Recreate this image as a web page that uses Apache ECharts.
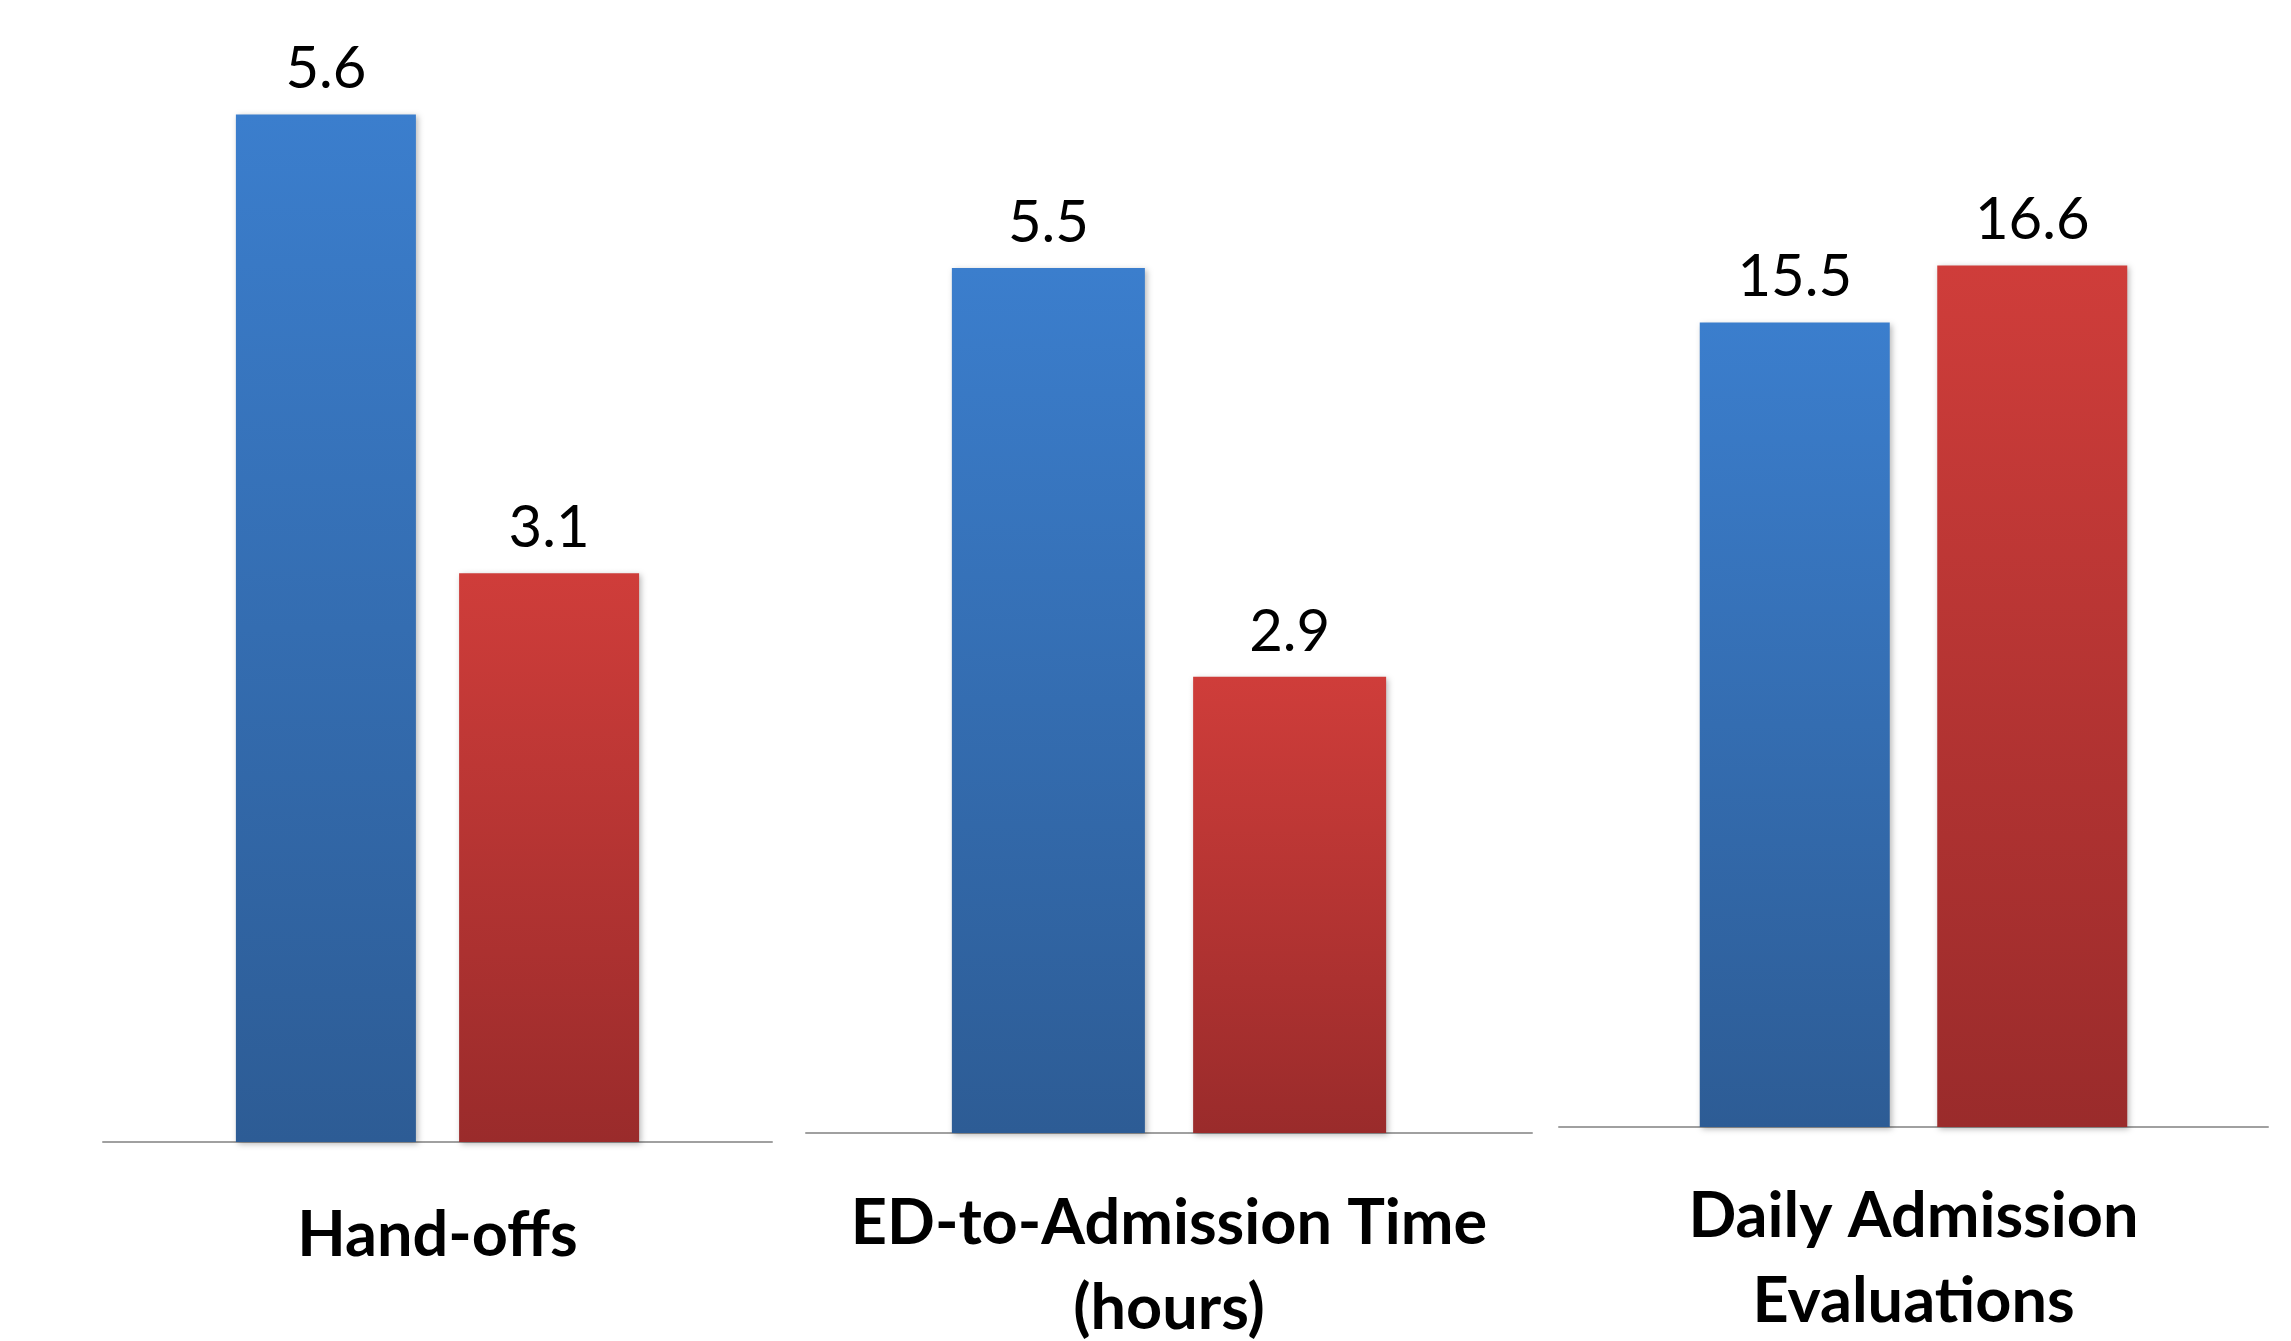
<!DOCTYPE html>
<html>
<head>
<meta charset="utf-8">
<script src="https://cdn.jsdelivr.net/npm/echarts@6/dist/echarts.min.js"></script>
<style>
  html, body { margin: 0; padding: 0; background: #ffffff; }
  #chart { width: 2291px; height: 1341px; }
</style>
</head>
<body>
<div id="chart"></div>
<script>
// ---- data ----
const categories = ['Hand-offs', 'ED-to-Admission Time\n(hours)', 'Daily Admission\nEvaluations'];
const seriesAName = 'Series A';
const seriesBName = 'Series B';
const seriesAValues = [5.6, 5.5, 15.5];
const seriesBValues = [3.1, 2.9, 16.6];
const axisMax = [6, 7, 20];

// ---- layout (pixels) ----
const panels = [
  { left: 103, width: 669, top: 41, bottom: 199, barWidth: 180, barGap: '24%', margin: 51 },
  { left: 806, width: 726, top: 32, bottom: 208, barWidth: 193, barGap: '25%', margin: 48 },
  { left: 1559, width: 709, top: 89, bottom: 214, barWidth: 190, barGap: '25%', margin: 47 }
];

const chart = echarts.init(document.getElementById('chart'), null, { renderer: 'canvas' });

const blueGrad = () => new echarts.graphic.LinearGradient(0, 0, 0, 1, [
  { offset: 0, color: '#3b7ecd' },
  { offset: 1, color: '#2d5c95' }
]);
const redGrad = () => new echarts.graphic.LinearGradient(0, 0, 0, 1, [
  { offset: 0, color: '#cf3d3a' },
  { offset: 1, color: '#9a2b2b' }
]);

const labelStyle = {
  show: true,
  position: 'top',
  distance: 16,
  fontFamily: 'Lato',
  fontSize: 58,
  color: '#000000'
};

const grid = [], xAxis = [], yAxis = [], series = [];
panels.forEach((p, i) => {
  grid.push({
    left: p.left, width: p.width, top: p.top, bottom: p.bottom,
    containLabel: false,
    outerBoundsMode: 'none'
  });
  xAxis.push({
    type: 'category',
    gridIndex: i,
    data: [categories[i]],
    axisTick: { show: false },
    axisLine: { show: true, lineStyle: { color: '#a0a0a0', width: 2 } },
    axisLabel: {
      interval: 0,
      margin: p.margin,
      fontFamily: 'Lato',
      fontWeight: 'bold',
      fontSize: 63,
      lineHeight: 85,
      color: '#000000'
    },
    splitLine: { show: false }
  });
  yAxis.push({
    type: 'value',
    gridIndex: i,
    min: 0,
    max: axisMax[i],
    show: false,
    splitLine: { show: false }
  });
  const shadow = { shadowBlur: 6, shadowColor: 'rgba(0,0,0,0.28)', shadowOffsetX: 2, shadowOffsetY: 2 };
  series.push({
    name: seriesAName,
    type: 'bar',
    xAxisIndex: i,
    yAxisIndex: i,
    data: [seriesAValues[i]],
    barWidth: p.barWidth,
    barGap: p.barGap,
    itemStyle: Object.assign({ color: blueGrad() }, shadow),
    label: labelStyle,
    z: 3
  });
  series.push({
    name: seriesBName,
    type: 'bar',
    xAxisIndex: i,
    yAxisIndex: i,
    data: [seriesBValues[i]],
    barWidth: p.barWidth,
    barGap: p.barGap,
    itemStyle: Object.assign({ color: redGrad() }, shadow),
    label: labelStyle,
    z: 3
  });
});

chart.setOption({
  backgroundColor: '#ffffff',
  animation: false,
  grid: grid,
  xAxis: xAxis,
  yAxis: yAxis,
  series: series
});
</script>
</body>
</html>
